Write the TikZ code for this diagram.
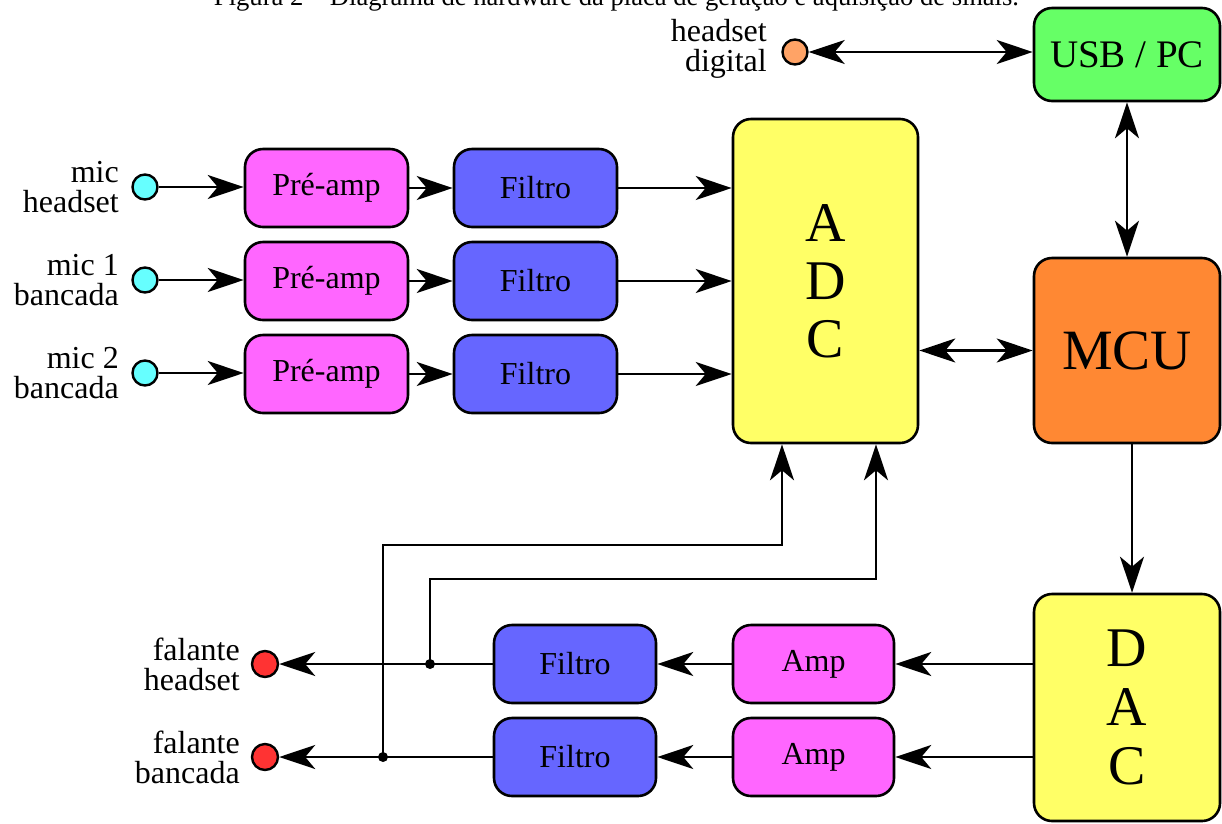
\documentclass[tikz,border=0pt]{standalone}
\usepackage{fontspec}
\setmainfont{Liberation Serif}
\usetikzlibrary{arrows.meta}
\definecolor{cPre}{HTML}{FF66FF}
\definecolor{cFil}{HTML}{6666FF}
\definecolor{cYel}{HTML}{FFFF66}
\definecolor{cUSB}{HTML}{66FF66}
\definecolor{cMCU}{HTML}{FF8833}
\definecolor{cMic}{HTML}{66FFFF}
\definecolor{cSpk}{HTML}{FF3333}
\definecolor{cHd}{HTML}{FFA366}
\begin{document}
\begin{tikzpicture}[x=1pt,y=-1pt,
  >={Stealth[length=36pt,width=24pt,inset=10pt]},
  blk/.style={draw, line width=2.6pt, rounded corners=18pt, inner sep=0pt,
    font=\fontsize{32}{36}\selectfont},
  small/.style={blk, minimum width=163pt, minimum height=78pt},
  port/.style={circle, draw, line width=2.4pt, minimum size=25pt, inner sep=0pt},
  lbl/.style={anchor=east, align=right, inner sep=0pt,
    font=\fontsize{32}{30}\selectfont},
  link/.style={line width=2.4pt},
  dot/.style={circle, fill=black, minimum size=10pt, inner sep=0pt}]
\useasboundingbox (0,0) rectangle (1222,823);

% caption
\node[anchor=base, inner sep=0pt, font=\fontsize{26.6}{30}\selectfont] (cap) at (616.5,5)
  {Figura 2 – Diagrama de hardware da placa de geração e aquisição de sinais.};

% main blocks
\node[blk, fill=cUSB, minimum width=186pt, minimum height=93pt,
  font=\fontsize{39}{44}\selectfont] (usb) at (1127,54.5) {USB / PC};
\node[blk, fill=cYel, minimum width=185pt, minimum height=324pt, align=center,
  font=\fontsize{56}{58}\selectfont] (adc) at (825.5,281) {A\\D\\C};
\node[blk, fill=cMCU, minimum width=186pt, minimum height=185pt,
  font=\fontsize{57}{60}\selectfont] (mcu) at (1127,350.5) {MCU};
\node[blk, fill=cYel, minimum width=186pt, minimum height=227pt, align=center,
  font=\fontsize{56}{59}\selectfont] (dac) at (1127,707.5) {D\\A\\C};

% digital headset
\node[port, fill=cHd] (hd) at (795,52) {};
\node[lbl] (hdl) at (767,48.5) {headset\\digital};

% input chains
\node[port, fill=cMic] (mic1) at (145,187) {};
\node[port, fill=cMic] (mic2) at (145,280) {};
\node[port, fill=cMic] (mic3) at (145,373) {};
\node[lbl] (mic1l) at (119,187) {mic\\headset};
\node[lbl] (mic2l) at (119,280) {mic 1\\bancada};
\node[lbl] (mic3l) at (119,373) {mic 2\\bancada};
\node[small, fill=cPre] (pre1) at (326.5,188) {Pré-amp};
\node[small, fill=cPre] (pre2) at (326.5,281) {Pré-amp};
\node[small, fill=cPre] (pre3) at (326.5,374) {Pré-amp};
\node[small, fill=cFil] (fil1) at (535.5,188) {Filtro};
\node[small, fill=cFil] (fil2) at (535.5,281) {Filtro};
\node[small, fill=cFil] (fil3) at (535.5,374) {Filtro};

% output chains
\node[small, fill=cPre, minimum width=161pt] (amp1) at (813.5,664) {Amp};
\node[small, fill=cPre, minimum width=161pt] (amp2) at (813.5,757) {Amp};
\node[small, fill=cFil, minimum width=162pt] (ofil1) at (575,664) {Filtro};
\node[small, fill=cFil, minimum width=162pt] (ofil2) at (575,757) {Filtro};
\node[port, fill=cSpk, minimum size=26pt] (spk1) at (265,664) {};
\node[port, fill=cSpk, minimum size=26pt] (spk2) at (265,757) {};
\node[lbl] (spk1l) at (240,664) {falante\\headset};
\node[lbl] (spk2l) at (240,757) {falante\\bancada};

% bus connections
\draw[link, <->] (hd) -- (hd -| usb.west);
\draw[link, <->] (usb) -- (mcu);
\draw[link, <->] (adc.east |- mcu.west) -- (mcu.west);
\draw[link, ->] ([xshift=5pt]mcu.south) -- ([xshift=5pt]dac.north);

% input signal flow
\foreach \i in {1,2,3} {
  \draw[link, ->] (mic\i) -- (mic\i -| pre\i.west);
  \draw[link, ->] (pre\i) -- (fil\i);
  \draw[link, ->] (fil\i) -- (fil\i -| adc.west);
}

% output signal flow
\foreach \i in {1,2} {
  \draw[link, ->] (dac.west |- amp\i) -- (amp\i);
  \draw[link, ->] (amp\i) -- (ofil\i);
  \draw[link, ->] (ofil\i) -- (spk\i);
}

% loopback taps into the ADC
\node[dot] (j1) at (430,664) {};
\node[dot] (j2) at (383,757) {};
\coordinate (t1) at ([xshift=50.5pt]adc.south);
\coordinate (t2) at ([xshift=-43.5pt]adc.south);
\draw[link, ->] (j2.center) -- (383,545) -| (t2);
\draw[link, ->] (j1.center) -- (430,579) -| (t1);
\end{tikzpicture}
\end{document}
